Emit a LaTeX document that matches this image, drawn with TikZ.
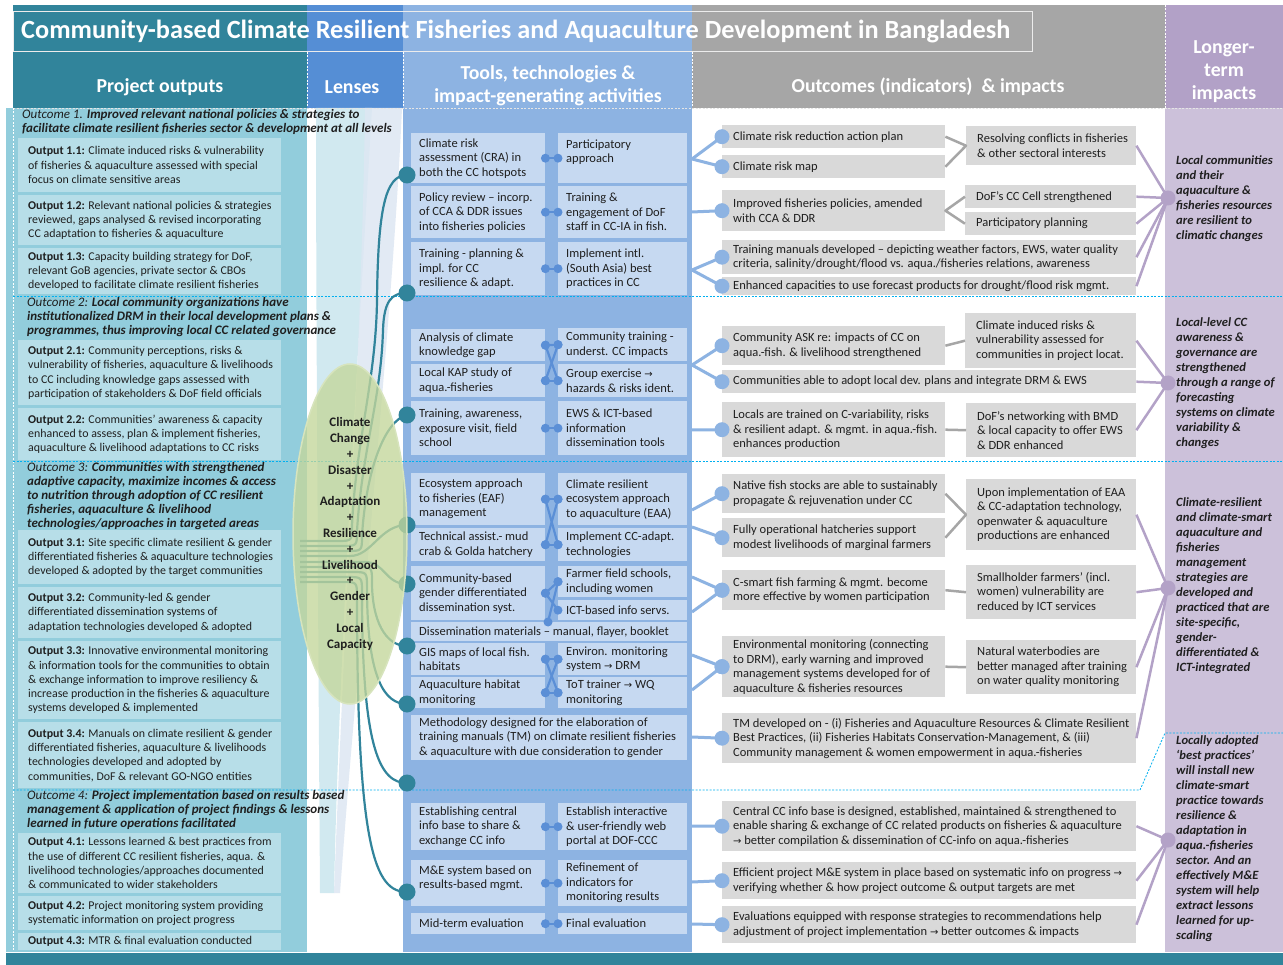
\documentclass[tikz,border=0pt]{standalone}
\usepackage{fontspec}
\setmainfont{Carlito}
\newfontfamily\arrfont{DejaVu Sans}
\usetikzlibrary{shapes.geometric}

\definecolor{tealdark}{HTML}{31849B}
\definecolor{tealmid}{HTML}{92CDDC}
\definecolor{teallight}{HTML}{B7DEE8}
\definecolor{lensblue}{HTML}{558ED5}
\definecolor{toolblue}{HTML}{8DB3E2}
\definecolor{toolbox}{HTML}{C6D9F1}
\definecolor{toolline}{HTML}{5B8FD6}
\definecolor{hdrgray}{HTML}{A6A6A6}
\definecolor{boxgray}{HTML}{D9D9D9}
\definecolor{linegray}{HTML}{A6A6A6}
\definecolor{hdrpurple}{HTML}{B2A1C7}
\definecolor{bgpurple}{HTML}{CCC1DA}
\definecolor{linepurple}{HTML}{B3A2C7}
\definecolor{sepcyan}{HTML}{00B0F0}
\definecolor{lensfill}{HTML}{C4D79B}
\definecolor{lensedge}{HTML}{D7E4BD}
\definecolor{ink}{HTML}{1F1F1F}
\definecolor{funnelA}{HTML}{C9E6EE}
\definecolor{funnelB}{HTML}{DDE7F3}

\newcommand\rarr{{\arrfont\fontsize{10}{10}\selectfont\char"2192}}

\tikzset{
  obox/.style={fill=teallight},
  tbox/.style={fill=toolbox},
  gbox/.style={fill=boxgray},
  otxt/.style={xshift=10pt, text=ink, font=\fontsize{11.9}{14.3}\selectfont},
  ttxt/.style={xshift=8pt, text=ink, font=\fontsize{12.5}{14.5}\selectfont},
  gtxt/.style={xshift=11pt, text=ink, font=\fontsize{12.5}{14.5}\selectfont},
  note/.style={anchor=west, align=left, inner sep=0pt, text=ink, font=\fontsize{13}{14}\selectfont\itshape},
  impact/.style={anchor=west, align=left, inner sep=0pt, text=ink, font=\fontsize{12.6}{15}\selectfont\bfseries\itshape},
  hdr/.style={text=white, font=\fontsize{19.8}{23}\selectfont\bfseries, align=center, inner sep=0pt},
  sep/.style={draw=sepcyan, line width=0.8pt, dash pattern=on 2pt off 1.5pt},
  hsep/.style={draw=white, line width=0.8pt, dash pattern=on 2pt off 1.5pt},
  lensline/.style={draw=tealdark, line width=2.2pt},
  toolconn/.style={draw=toolline, line width=2.2pt},
  outconn/.style={draw=toolblue, line width=3pt},
  grayconn/.style={draw=linegray, line width=2.5pt, line join=round},
  purpconn/.style={draw=linepurple, line width=2.5pt},
  pdot/.style={circle, fill=linepurple, minimum size=15pt, inner sep=0pt},
}

% box node (#1) from (#2,#3) to (#4,#5), box style #6, text style #7, text #8
\newcommand\mybox[8]{%
  \pgfmathsetmacro\boxw{#4-#2}%
  \pgfmathsetmacro\boxh{#5-#3}%
  \node[#6, anchor=north west, minimum width=\boxw pt, minimum height=\boxh pt, inner sep=0pt] (#1) at (#2,#3) {};%
  \node[#7, anchor=west, align=left, inner sep=0pt] (#1-t) at (#1.west) {#8};%
}
% dumbbell link between two tool boxes
\newcommand\tlink[2]{%
  \draw[toolconn] (#1) -- (#2);
  \fill[toolline] (#1) circle (4.5pt) (#2) circle (4.5pt);}
% link from the tools column to an outcome box
\newcommand\olink[2]{%
  \draw[outconn] (#1) -- (#2);
  \fill[toolblue] (#2) circle (7.5pt);}

\begin{document}
\begin{tikzpicture}[x=1pt,y=-1pt]
\useasboundingbox (0,0) rectangle (1283,965);
\fill[white] (0,0) rectangle (1283,965);

% ---------- column backgrounds ----------
\fill[tealdark] (13,5) rectangle (307,108);
\fill[lensblue] (307,5) rectangle (403,108);
\fill[toolblue] (403,5) rectangle (692,952);
\fill[hdrgray] (692,5) rectangle (1165,108);
\fill[hdrpurple] (1165,5) rectangle (1283,108);
\fill[bgpurple] (1165,108) rectangle (1283,952);
\fill[tealmid] (6,108) rectangle (307,952);
\fill[tealdark] (6,953) rectangle (1283,965);

% light funnel behind the lenses
\fill[funnelA, opacity=.85] (316,108) -- (372,108) .. controls (352,450) and (338,700) .. (334,893) -- (320,893) .. controls (318,600) and (316,300) .. cycle;
\fill[funnelB, opacity=.85] (365,108) -- (402,108) .. controls (392,330) and (360,620) .. (340,893) -- (334,893) .. controls (345,600) and (362,330) .. cycle;

% ---------- header ----------
\draw[white!85!gray, line width=1pt] (13,12) rectangle (1032,52);
\draw[hsep] (307,52) -- (307,108) (403,52) -- (403,108) (692,52) -- (692,108) (1165,5) -- (1165,108);
\draw[hsep, draw=white!80!gray] (13,108) -- (1283,108);
\draw[hsep] (13,108) -- (13,950);

\node[anchor=west, inner sep=0pt, text=white, font=\fontsize{26.3}{28}\selectfont\bfseries] (title) at (21,32)
  {Community-based Climate Resilient Fisheries and Aquaculture Development in Bangladesh};
\node[hdr] (h1) at (160,87) {Project outputs};
\node[hdr] (h2) at (352,87) {Lenses};
\node[hdr] (h3) at (548,86) {Tools, technologies \&\\impact-generating activities};
\node[hdr] (h4) at (928,87) {Outcomes (indicators)\ \ \& impacts};
\node[hdr] (h5) at (1224,72) {Longer-\\term\\impacts};

% ---------- section separators ----------
\draw[sep] (13,296) -- (1283,296);
\draw[sep] (13,461) -- (1283,461);
\draw[sep] (13,790) -- (1140,790) -- (1165,733) -- (1283,733);

% ---------- project outputs ----------
\node[note] (n1) at (22,121.5) {Outcome 1. \textbf{Improved relevant national policies \& strategies to}\\\textbf{facilitate climate resilient fisheries sector \& development at all levels}};
\mybox{o11}{18}{138}{281}{192}{obox}{otxt}{\textbf{Output 1.1:} Climate induced risks \& vulnerability\\of fisheries \& aquaculture assessed with special\\focus on climate sensitive areas}
\mybox{o12}{18}{195}{281}{245}{obox}{otxt}{\textbf{Output 1.2:} Relevant national policies \& strategies\\reviewed, gaps analysed \& revised incorporating\\CC adaptation to fisheries \& aquaculture}
\mybox{o13}{18}{248}{281}{294}{obox}{otxt}{\textbf{Output 1.3:} Capacity building strategy for DoF,\\relevant GoB agencies, private sector \& CBOs\\developed to facilitate climate resilient fisheries}

\node[note] (n2) at (27,317) {Outcome 2: \textbf{Local community organizations have}\\\textbf{institutionalized DRM in their local development plans \&}\\\textbf{programmes, thus improving local CC related governance}};
\mybox{o21}{18}{340}{281}{405}{obox}{otxt}{\textbf{Output 2.1:} Community perceptions, risks \&\\vulnerability of fisheries, aquaculture \& livelihoods\\to CC including knowledge gaps assessed with\\participation of stakeholders \& DoF field officials}
\mybox{o22}{18}{408}{281}{460}{obox}{otxt}{\textbf{Output 2.2:} Communities’ awareness \& capacity\\enhanced to assess, plan \& implement fisheries,\\aquaculture \& livelihood adaptations to CC risks}

\node[note] (n3) at (27,496) {Outcome 3: \textbf{Communities with strengthened}\\\textbf{adaptive capacity, maximize incomes \& access}\\\textbf{to nutrition through adoption of CC resilient}\\\textbf{fisheries, aquaculture \& livelihood}\\\textbf{technologies/approaches in targeted areas}};
\mybox{o31}{18}{530}{281}{584}{obox}{otxt}{\textbf{Output 3.1:} Site specific climate resilient \& gender\\differentiated fisheries \& aquaculture technologies\\developed \& adopted by the target communities}
\mybox{o32}{18}{587}{281}{638}{obox}{otxt}{\textbf{Output 3.2:} Community-led \& gender\\differentiated dissemination systems of\\adaptation technologies developed \& adopted}
\mybox{o33}{18}{641}{281}{719}{obox}{otxt}{\textbf{Output 3.3:} Innovative environmental monitoring\\\& information tools for the communities to obtain\\\& exchange information to improve resiliency \&\\increase production in the fisheries \& aquaculture\\systems developed \& implemented}
\mybox{o34}{18}{722}{281}{788}{obox}{otxt}{\textbf{Output 3.4:} Manuals on climate resilient \& gender\\differentiated fisheries, aquaculture \& livelihoods\\technologies developed and adopted by\\communities, DoF \& relevant GO-NGO entities}

\node[note] (n4) at (27,810) {Outcome 4: \textbf{Project implementation based on results based}\\\textbf{management \& application of project findings \& lessons}\\\textbf{learned in future operations facilitated}};
\mybox{o41}{18}{833}{281}{893}{obox}{otxt}{\textbf{Output 4.1:} Lessons learned \& best practices from\\the use of different CC resilient fisheries, aqua. \&\\livelihood technologies/approaches documented\\\& communicated to wider stakeholders}
\mybox{o42}{18}{896}{281}{930}{obox}{otxt}{\textbf{Output 4.2:} Project monitoring system providing\\systematic information on project progress}
\mybox{o43}{18}{933}{281}{950}{obox}{otxt}{\textbf{Output 4.3:} MTR \& final evaluation conducted}

% ---------- tools, technologies & activities ----------
\mybox{t1a}{411}{133}{545}{183}{tbox}{ttxt}{Climate risk\\assessment (CRA) in\\both the CC hotspots}
\mybox{t1b}{558}{133}{687}{183}{tbox}{ttxt, yshift=6pt}{Participatory\\approach}
\mybox{t2a}{411}{186}{545}{238}{tbox}{ttxt}{Policy review – incorp.\\of CCA \& DDR issues\\into fisheries policies}
\mybox{t2b}{558}{186}{687}{238}{tbox}{ttxt}{Training \&\\engagement of DoF\\staff in CC-IA in fish.}
\mybox{t3a}{411}{242}{545}{295}{tbox}{ttxt}{Training - planning \&\\impl. for CC\\resilience \& adapt.}
\mybox{t3b}{558}{242}{687}{295}{tbox}{ttxt}{Implement intl.\\(South Asia) best\\practices in CC}

\mybox{t4a}{411}{329}{545}{361}{tbox}{ttxt}{Analysis of climate\\knowledge gap}
\mybox{t4b}{558}{328}{687}{361}{tbox}{ttxt}{Community training -\\underst. CC impacts}
\mybox{t5a}{411}{364}{545}{397}{tbox}{ttxt}{Local KAP study of\\aqua.-fisheries}
\mybox{t5b}{558}{364}{687}{397}{tbox}{ttxt}{Group exercise \rarr\\hazards \& risks ident.}
\mybox{t6a}{411}{401}{545}{455}{tbox}{ttxt}{Training, awareness,\\exposure visit, field\\school}
\mybox{t6b}{558}{401}{687}{455}{tbox}{ttxt}{EWS \& ICT-based\\information\\dissemination tools}

\mybox{t7a}{411}{473}{545}{525}{tbox}{ttxt}{Ecosystem approach\\to fisheries (EAF)\\management}
\mybox{t7b}{558}{473}{687}{525}{tbox}{ttxt}{Climate resilient\\ecosystem approach\\to aquaculture (EAA)}
\mybox{t8a}{411}{528}{545}{561}{tbox}{ttxt}{Technical assist.- mud\\crab \& Golda hatchery}
\mybox{t8b}{558}{528}{687}{561}{tbox}{ttxt}{Implement CC-adapt.\\technologies}
\mybox{t9a}{411}{566}{545}{620}{tbox}{ttxt}{Community-based\\gender differentiated\\dissemination syst.}
\mybox{t9b}{558}{566}{687}{597}{tbox}{ttxt}{Farmer field schools,\\including women}
\mybox{t9c}{558}{600}{687}{620}{tbox}{ttxt}{ICT-based info servs.}
\mybox{t10}{411}{622}{687}{641}{tbox}{ttxt}{Dissemination materials – manual, flayer, booklet}
\mybox{t11a}{411}{643}{545}{675}{tbox}{ttxt}{GIS maps of local fish.\\habitats}
\mybox{t11b}{558}{643}{687}{675}{tbox}{ttxt}{Environ. monitoring\\system \rarr\ DRM}
\mybox{t12a}{411}{677}{545}{708}{tbox}{ttxt}{Aquaculture habitat\\monitoring}
\mybox{t12b}{558}{677}{687}{708}{tbox}{ttxt}{ToT trainer \rarr\ WQ\\monitoring}
\mybox{t13}{411}{715}{687}{760}{tbox}{ttxt}{Methodology designed for the elaboration of\\training manuals (TM) on climate resilient fisheries\\\& aquaculture with due consideration to gender}

\mybox{t14a}{411}{803}{545}{850}{tbox}{ttxt}{Establishing central\\info base to share \&\\exchange CC info}
\mybox{t14b}{558}{803}{687}{850}{tbox}{ttxt}{Establish interactive\\\& user-friendly web\\portal at DOF-CCC}
\mybox{t15a}{411}{860}{545}{906}{tbox}{ttxt, yshift=5pt}{M\&E system based on\\results-based mgmt.}
\mybox{t15b}{558}{860}{687}{906}{tbox}{ttxt}{Refinement of\\indicators for\\monitoring results}
\mybox{t16a}{411}{913}{545}{934}{tbox}{ttxt}{Mid-term evaluation}
\mybox{t16b}{558}{913}{687}{934}{tbox}{ttxt}{Final evaluation}

% links between paired tools
\tlink{t1a.east}{t1b.west}
\tlink{t2a.east}{t2b.west}
\tlink{t3a.east}{t3b.west}
\tlink{t4a.east}{t4b.west}
\tlink{t5a.east}{t5b.west}
\tlink{t4a.east}{t5b.west}
\tlink{t5a.east}{t4b.west}
\tlink{t6a.east}{t6b.west}
\tlink{t7a.east}{t7b.west}
\tlink{t8a.east}{t8b.west}
\tlink{t7a.east}{t8b.west}
\tlink{t8a.east}{t7b.west}
\coordinate (t10c) at (548,622);
\tlink{t9a.east}{t9b.west}
\tlink{t9a.east}{t9c.west}
\tlink{t9b.west}{t10c}
\tlink{t11a.east}{t11b.west}
\tlink{t12a.east}{t12b.west}
\tlink{t11a.east}{t12b.west}
\tlink{t12a.east}{t11b.west}
\tlink{t14a.east}{t14b.west}
\tlink{t15a.east}{t15b.west}
\tlink{t16a.east}{t16b.west}

% ---------- lens bundle ----------
\foreach \i/\y in {1/541,2/546,3/551,4/556,5/562,6/567,7/572,8/577,9/582}
  \coordinate (ls\i) at (300,\y);
\foreach \i/\y in {1/175,2/293,3/415,4/525,5/584,6/646,7/704,8/783,9/892}
  \coordinate (lp\i) at (407,\y);

\draw[lensline] (ls1) -- (337,541) .. controls (352,541) and (352,541) .. (352,526) .. controls (356,440) and (376,380) .. (377,300) .. controls (378,210) and (385,175) .. (lp1);
\draw[lensline] (ls2) -- (342,546) .. controls (357,546) and (357,546) .. (357,531) .. controls (362,450) and (381,400) .. (383,330) .. controls (384,300) and (392,293) .. (lp2);
\draw[lensline] (ls3) -- (347,551) .. controls (362,551) and (362,551) .. (362,536) .. controls (366,470) and (385,420) .. (lp3);
\draw[lensline] (ls4) -- (350,556) .. controls (372,556) and (380,525) .. (lp4);
\draw[lensline] (ls5) -- (365,562) .. controls (385,562) and (385,584) .. (lp5);
\draw[lensline] (ls6) -- (357,567) .. controls (372,567) and (372,567) .. (372,582) .. controls (372,620) and (385,646) .. (lp6);
\draw[lensline] (ls7) -- (352,572) .. controls (367,572) and (367,572) .. (367,587) .. controls (367,680) and (385,704) .. (lp7);
\draw[lensline] (ls8) -- (347,577) .. controls (362,577) and (362,577) .. (362,592) .. controls (362,750) and (380,783) .. (lp8);
\draw[lensline] (ls9) -- (342,582) .. controls (357,582) and (357,582) .. (357,597) .. controls (357,850) and (375,892) .. (lp9);
\foreach \i in {1,...,9} \fill[tealdark] (lp\i) circle (8.5pt);

\node[ellipse, fill=lensfill, fill opacity=.78, text opacity=1, draw=lensedge, line width=1.5pt,
      minimum width=114pt, minimum height=340pt, inner sep=0pt, align=center,
      text=ink, font=\fontsize{13}{15.8}\selectfont\bfseries] (lens) at (350,534)
  {Climate\\Change\\+\\Disaster\\+\\Adaptation\\+\\Resilience\\+\\Livelihood\\+\\Gender\\+\\Local\\Capacity};

% ---------- outcomes (indicators) & impacts ----------
\mybox{a1}{722}{125}{945}{148}{gbox}{gtxt}{Climate risk reduction action plan}
\mybox{a2}{722}{155}{945}{178}{gbox}{gtxt}{Climate risk map}
\mybox{a3}{966}{126}{1136}{165}{gbox}{gtxt}{Resolving conflicts in fisheries\\\& other sectoral interests}
\mybox{a4}{722}{190}{945}{231}{gbox}{gtxt}{Improved fisheries policies, amended\\with CCA \& DDR}
\mybox{a5}{965}{185}{1136}{208}{gbox}{gtxt}{DoF’s CC Cell strengthened}
\mybox{a6}{965}{212}{1136}{235}{gbox}{gtxt}{Participatory planning}
\mybox{a7}{722}{240}{1136}{274}{gbox}{gtxt}{Training manuals developed – depicting weather factors, EWS, water quality\\criteria, salinity/drought/flood vs. aqua./fisheries relations, awareness}
\mybox{a8}{722}{277}{1136}{295}{gbox}{gtxt}{Enhanced capacities to use forecast products for drought/flood risk mgmt.}

\mybox{b1}{722}{326}{945}{365}{gbox}{gtxt}{Community ASK re: impacts of CC on\\aqua.-fish. \& livelihood strengthened}
\mybox{b2}{965}{313}{1136}{368}{gbox}{gtxt}{Climate induced risks \&\\vulnerability assessed for\\communities in project locat.}
\mybox{b3}{722}{370}{1136}{393}{gbox}{gtxt}{Communities able to adopt local dev. plans and integrate DRM \& EWS}
\mybox{b4}{722}{402}{945}{457}{gbox}{gtxt}{Locals are trained on C-variability, risks\\\& resilient adapt. \& mgmt. in aqua.-fish.\\enhances production}
\mybox{b5}{966}{403}{1136}{457}{gbox}{gtxt}{DoF’s networking with BMD\\\& local capacity to offer EWS\\\& DDR enhanced}

\mybox{c1}{722}{474}{945}{513}{gbox}{gtxt}{Native fish stocks are able to sustainably\\propagate \& rejuvenation under CC}
\mybox{c2}{722}{518}{945}{557}{gbox}{gtxt}{Fully operational hatcheries support\\modest livelihoods of marginal farmers}
\mybox{c3}{966}{479}{1136}{550}{gbox}{gtxt}{Upon implementation of EAA\\\& CC-adaptation technology,\\openwater \& aquaculture\\productions are enhanced}
\mybox{c4}{722}{570}{945}{610}{gbox}{gtxt}{C-smart fish farming \& mgmt. become\\more effective by women participation}
\mybox{c5}{966}{565}{1136}{619}{gbox}{gtxt}{Smallholder farmers’ (incl.\\women) vulnerability are\\reduced by ICT services}
\mybox{c6}{722}{636}{945}{697}{gbox}{gtxt}{Environmental monitoring (connecting\\to DRM), early warning and improved\\management systems developed for of\\aquaculture \& fisheries resources}
\mybox{c7}{966}{640}{1136}{694}{gbox}{gtxt}{Natural waterbodies are\\better managed after training\\on water quality monitoring}
\mybox{c8}{722}{713}{1136}{763}{gbox}{gtxt}{TM developed on - (i) Fisheries and Aquaculture Resources \& Climate Resilient\\Best Practices, (ii) Fisheries Habitats Conservation-Management, \& (iii)\\Community management \& women empowerment in aqua.-fisheries}

\mybox{d1}{722}{801}{1136}{851}{gbox}{gtxt}{Central CC info base is designed, established, maintained \& strengthened to\\enable sharing \& exchange of CC related products on fisheries \& aquaculture\\\rarr\ better compilation \& dissemination of CC-info on aqua.-fisheries}
\mybox{d2}{722}{862}{1136}{899}{gbox}{gtxt}{Efficient project M\&E system in place based on systematic info on progress \rarr\\verifying whether \& how project outcome \& output targets are met}
\mybox{d3}{722}{906}{1136}{943}{gbox}{gtxt}{Evaluations equipped with response strategies to recommendations help\\adjustment of project implementation \rarr\ better outcomes \& impacts}

% links from the tools column
\coordinate (so1) at (692,159);
\coordinate (so2) at (692,212);
\coordinate (so3) at (692,270);
\coordinate (so4) at (692,365);
\coordinate (so5) at (692,430);
\coordinate (so6) at (692,510);
\coordinate (so7) at (692,527);
\coordinate (so8a) at (692,577);
\coordinate (so8b) at (692,612);
\coordinate (so9a) at (692,655);
\coordinate (so9b) at (692,690);
\coordinate (so10) at (692,737);
\coordinate (so11) at (692,826);
\coordinate (so12) at (692,882);
\coordinate (so13) at (692,924);
\olink{so1}{a1.west}
\olink{so1}{a2.west}
\olink{so2}{a4.west}
\olink{so3}{a7.west}
\olink{so3}{a8.west}
\olink{so4}{b1.west}
\olink{so4}{b3.west}
\olink{so5}{b4.west}
\olink{so6}{c1.west}
\olink{so7}{c2.west}
\olink{so8a}{c4.west}
\olink{so8b}{c4.west}
\olink{so9a}{c6.west}
\olink{so9b}{c6.west}
\olink{so10}{c8.west}
\olink{so11}{d1.west}
\olink{so12}{d2.west}
\olink{so13}{d3.west}

% links between outcome boxes
\draw[grayconn] (a1.east) -- (a3.west) -- (a2.east);
\draw[grayconn] (a5.west) -- (a4.east) -- (a6.west);
\draw[grayconn] (b1.east) -- (b2.west);
\draw[grayconn] (b4.east) -- (b5.west);
\draw[grayconn] (c1.east) -- (c3.west) -- (c2.east);
\draw[grayconn] (c4.east) -- (c5.west);
\draw[grayconn] (c6.east) -- (c7.west);

% links to the longer-term impacts
\coordinate (pc1) at (1168,198);
\coordinate (pc2) at (1168,383);
\coordinate (pc3) at (1168,588);
\coordinate (pc4) at (1168,840);
\foreach \b in {a3,a5,a6,a7,a8} \draw[purpconn] (\b.east) -- (pc1);
\foreach \b in {b2,b3,b5} \draw[purpconn] (\b.east) -- (pc2);
\foreach \b in {c3,c5,c7,c8} \draw[purpconn] (\b.east) -- (pc3);
\foreach \b in {d1,d2,d3} \draw[purpconn] (\b.east) -- (pc4);
\node[pdot] (pd1) at (pc1) {};
\node[pdot] (pd2) at (pc2) {};
\node[pdot] (pd3) at (pc3) {};
\node[pdot] (pd4) at (pc4) {};

% ---------- longer-term impacts ----------
\node[impact] (r1) at (1176,198.5) {Local communities\\and their\\aquaculture \&\\fisheries resources\\are resilient to\\climatic changes};
\node[impact] (r2) at (1176,383) {Local-level CC\\awareness \&\\governance are\\strengthened\\through a range of\\forecasting\\systems on climate\\variability \&\\changes};
\node[impact] (r3) at (1176,585.5) {Climate-resilient\\and climate-smart\\aquaculture and\\fisheries\\management\\strategies are\\developed and\\practiced that are\\site-specific,\\gender-\\differentiated \&\\ICT-integrated};
\node[impact] (r4) at (1176,839) {Locally adopted\\‘best practices’\\will install new\\climate-smart\\practice towards\\resilience \&\\adaptation in\\aqua.-fisheries\\sector. And an\\effectively M\&E\\system will help\\extract lessons\\learned for up-\\scaling};
\end{tikzpicture}
\end{document}
